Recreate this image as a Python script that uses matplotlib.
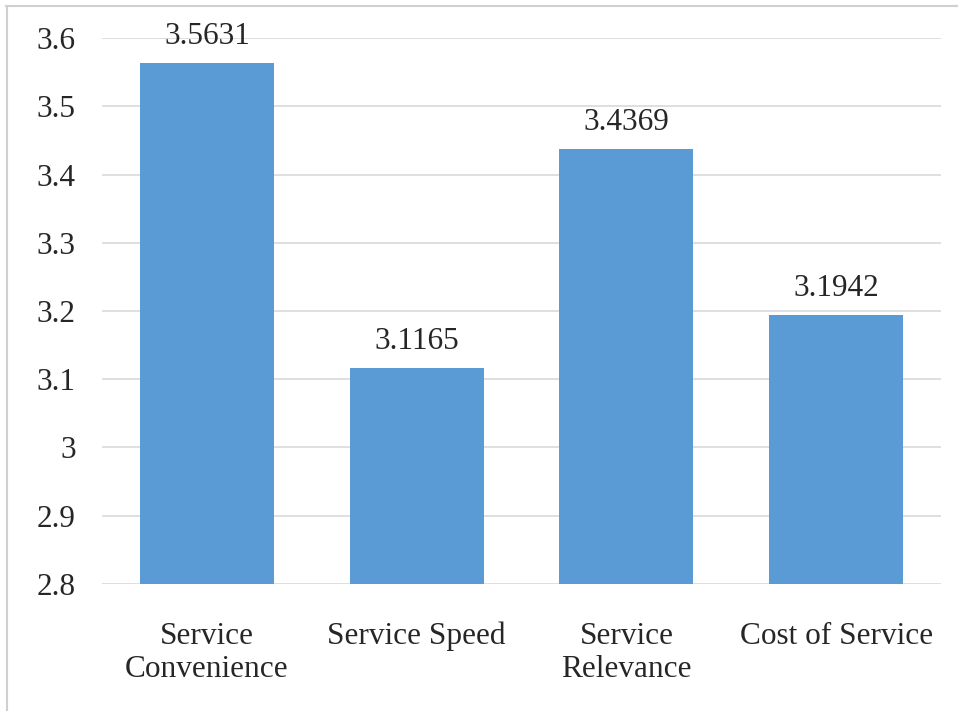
import matplotlib.pyplot as plt
from matplotlib.lines import Line2D

# mean scores per service dimension
categories = ["Service\nConvenience", "Service Speed", "Service\nRelevance", "Cost of Service"]
scores = [3.5631, 3.1165, 3.4369, 3.1942]
y_ticks = [2.8, 2.9, 3.0, 3.1, 3.2, 3.3, 3.4, 3.5, 3.6]
y_tick_labels = ["2.8", "2.9", "3", "3.1", "3.2", "3.3", "3.4", "3.5", "3.6"]

plt.rcParams['font.family'] = ['Liberation Serif', 'DejaVu Serif']

W, H = 958, 711
FS = 22.5
fig = plt.figure(figsize=(W / 100, H / 100), dpi=100)
ax = fig.add_axes([102 / W, 1 - 584 / H, (941 - 102) / W, (584 - 38) / H])

x = range(len(categories))
bars = ax.bar(x, [s - 2.8 for s in scores], bottom=2.8, width=0.64,
              color="#5B9BD5", zorder=3)
for xi, s in zip(x, scores):
    ax.text(xi, s + 0.018, "%.4f" % s, ha="center", va="bottom",
            fontsize=FS, color="#262626")

ax.set_xlim(-0.5, 3.5)
ax.set_ylim(2.8, 3.6)
ax.set_yticks(y_ticks)
ax.set_yticklabels(y_tick_labels, fontsize=FS, color="#262626")
ax.set_xticks(list(x))
ax.set_xticklabels(categories, fontsize=FS, color="#262626", linespacing=1.2)
ax.tick_params(axis="both", length=0)
ax.tick_params(axis="y", pad=19)
ax.tick_params(axis="x", pad=27)
ax.yaxis.grid(True, color="#D9D9D9", linewidth=1.2, zorder=0)
for spine in ax.spines.values():
    spine.set_visible(False)

# light frame around the chart area (top and left edges visible)
fig.add_artist(Line2D([6 / W, 1], [1 - 6 / H, 1 - 6 / H], color="#D0D0D0",
                      linewidth=1.5, transform=fig.transFigure))
fig.add_artist(Line2D([7 / W, 7 / W], [0, 1 - 6 / H], color="#D0D0D0",
                      linewidth=1.5, transform=fig.transFigure))

fig.savefig("out.png", dpi=100)
